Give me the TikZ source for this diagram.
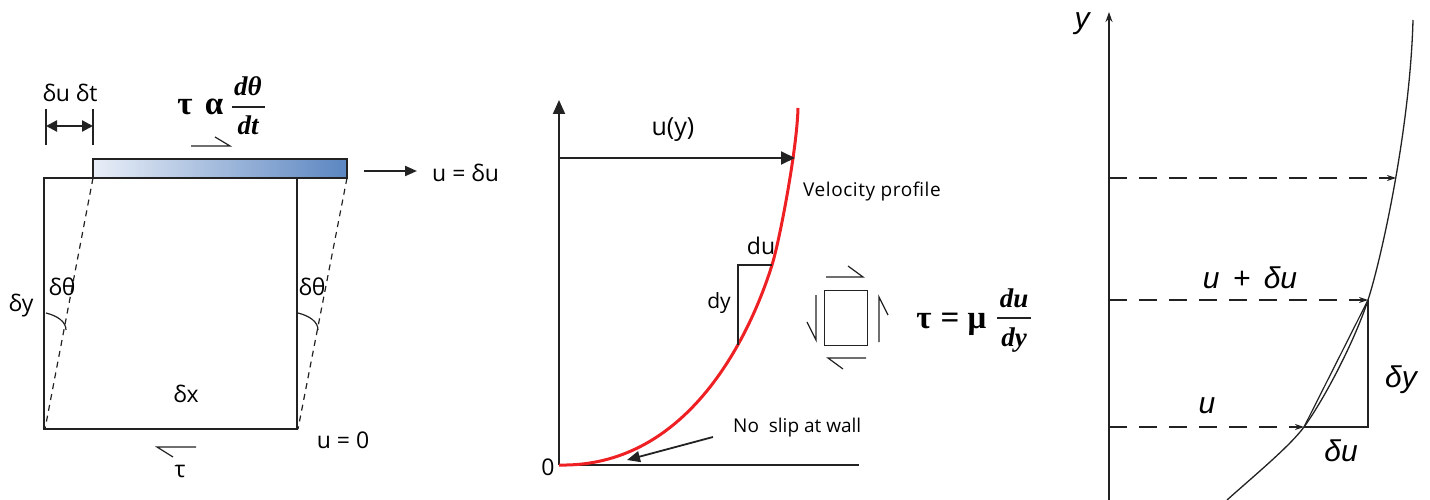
\documentclass[tikz,border=0pt]{standalone}
\usepackage{fontspec}
\setmainfont{Open Sans}
\newfontfamily\rsans{Liberation Sans}
\newfontfamily\mfont{Liberation Serif}
\usetikzlibrary{arrows.meta}
\definecolor{plateL}{HTML}{E9EEF7}
\definecolor{plateR}{HTML}{5B86C1}
\definecolor{profred}{HTML}{EE2024}
\definecolor{ink}{HTML}{222222}
\tikzset{
  thin1/.style={draw=ink, line width=1.4pt},
  dashl/.style={draw=ink, line width=1.2pt, dash pattern=on 6pt off 5pt},
  dashr/.style={draw=ink, line width=1.3pt, dash pattern=on 18pt off 12pt},
  lbl/.style={inner sep=0pt, font=\fontsize{23}{26}\selectfont},
  small/.style={inner sep=0pt, font=\fontsize{19}{21}\selectfont},
  rlbl/.style={inner sep=0pt, font=\rsans\itshape\fontsize{30}{32}\selectfont},
  bigsym/.style={inner sep=0pt, anchor=base, font=\mfont\bfseries\fontsize{33}{35}\selectfont},
  fracsym/.style={inner sep=0pt, anchor=base, font=\mfont\bfseries\itshape\fontsize{27}{29}\selectfont},
  fracbar/.style={draw=ink, line width=2pt},
}
\begin{document}
\begin{tikzpicture}[x=1pt,y=-1pt]
\useasboundingbox (0,0) rectangle (1430,500);
% ---------------- left panel ----------------
\coordinate (sqTL) at (44,178);
\coordinate (sqBL) at (44,429);
\coordinate (sqBR) at (297,429);
\coordinate (sqTR) at (297,178);
\node[draw=ink, line width=1.4pt, outer sep=0pt, left color=plateL, right color=plateR, minimum width=254pt, minimum height=19pt, inner sep=0pt, anchor=north west] (plate) at (93,159) {};
\draw[thin1] (plate.south west) -- (sqTL) -- (sqBL) -- (sqBR) -- (sqTR);
\coordinate (dL) at (45,429);
\coordinate (dR) at (298,429);
\draw[dashl] (plate.south west) -- (dL);
\draw[dashl] (plate.south east) -- (dR);
\draw[thin1, line width=1.2pt] (46,313) .. controls (58,316) and (66,322) .. (66,330);
\draw[thin1, line width=1.2pt] (298,313) .. controls (310,316) and (318,322) .. (318,330);
\node[lbl] (dthL) at (62,287) {δθ};
\node[lbl] (dthR) at (312,287) {δθ};
\node[lbl] (dy) at (21,306) {δy};
\node[lbl] (dx) at (186,394) {δx};
\node[lbl] (u0) at (343,440) {u = 0};
\node[lbl] (tauL) at (180,471) {τ};
\draw[thin1, line width=1.2pt] (196,447) -- (157,447) -- (173,457);
\draw[thin1, line width=1.2pt] (191,146) -- (230,146) -- (215,137);
% dimension
\coordinate (dimA1) at (46,109);
\coordinate (dimA2) at (46,145);
\coordinate (dimB1) at (93,109);
\coordinate (dimB2) at (93,145);
\draw[thin1] (dimA1) -- (dimA2);
\draw[thin1] (dimB1) -- (dimB2);
\coordinate (dimL) at (46,126);
\coordinate (dimR) at (93,126);
\draw[thin1, line width=2.2pt, {Triangle[length=11pt,width=11pt]}-{Triangle[length=11pt,width=11pt]}] (dimL) -- (dimR);
\node[lbl] (dudt) at (70,93) {δu δt};
% tau alpha dtheta/dt
\node[bigsym] (tauA) at (185,115) {τ};
\node[bigsym] (alphaA) at (214,115) {α};
\node[fracsym] (dthA) at (248,96) {dθ};
\node[fracsym] (dtA) at (248,135) {dt};
\coordinate (barA1) at (232,107);
\coordinate (barA2) at (265,107);
\draw[fracbar] (barA1) -- (barA2);
\coordinate (moveA) at (364,171);
\coordinate (moveB) at (417,171);
\draw[thin1, line width=2pt, -{Triangle[length=12pt,width=10pt]}] (moveA) -- (moveB);
\node[lbl, anchor=west] (udu) at (432,173) {u = δu};
% ---------------- middle panel ----------------
\coordinate (O) at (559,465);
\coordinate (ytop) at (559,100);
\coordinate (xend) at (859,465);
\draw[draw=ink, line width=2pt, -{Triangle[length=14pt,width=12pt]}] (O) -- (ytop);
\draw[draw=ink, line width=2pt] (O) -- (xend);
\node[lbl] (zero) at (548,467) {0};
\coordinate (pB) at (772,265);
\draw[profred, line width=3pt] (O) .. controls (700,468) and (758,310) .. coordinate[pos=0.64] (pA) (pB)
   .. controls (779,243) and (797,150) .. (798,108);
\coordinate (uyL) at (559,158);
\coordinate (uyR) at (795,158);
\draw[draw=ink, line width=2pt, -{Triangle[length=14pt,width=13pt]}] (uyL) -- (uyR);
\node[lbl, font=\fontsize{25}{28}\selectfont] (uy) at (673,130) {u(y)};
\node[small, anchor=west, font=\addfontfeature{LetterSpace=3}\fontsize{19}{21}\selectfont] (vp) at (803,192) {Velocity profile};
\draw[thin1, line width=1.3pt] (pA) |- (pB);
\node[lbl] (du) at (761,246) {du};
\node[lbl, font=\rmfamily\fontsize{21}{22}\selectfont] (dyl) at (719,303) {dy};
\node[draw=ink, line width=1.4pt, minimum width=43pt, minimum height=55pt, inner sep=0pt] (elem) at (846,318) {};
\draw[thin1, line width=1.2pt] (826,277) -- (863,277) -- (848,266);
\draw[thin1, line width=1.2pt] (866,358) -- (828,358) -- (843,369);
\draw[thin1, line width=1.2pt] (816,295) -- (816,340) -- (807,322);
\draw[thin1, line width=1.2pt] (879,342) -- (879,297) -- (888,315);
% tau = mu du/dy
\node[bigsym] (tauB) at (924,328) {τ};
\node[bigsym] (eqB) at (950,328) {=};
\node[bigsym] (muB) at (977,328) {μ};
\node[fracsym] (duB) at (1014,307) {du};
\node[fracsym] (dyB) at (1014,346) {dy};
\coordinate (barB1) at (997,318);
\coordinate (barB2) at (1031,318);
\draw[fracbar] (barB1) -- (barB2);
\node[small, anchor=west] (ns) at (733,428) {No\ \ slip at wall};
\coordinate (nsA) at (713,437);
\coordinate (nsB) at (627,460);
\draw[draw=ink, line width=1.8pt, -{Triangle[length=13pt,width=11pt]}] (nsA) -- (nsB);
% ---------------- right panel ----------------
\coordinate (rbot) at (1109,500);
\coordinate (rtop) at (1109,12);
\draw[draw=ink, line width=1.4pt, -{Stealth[length=10pt,width=7pt]}] (rbot) -- (rtop);
\node[rlbl] (ry) at (1082,24) {y};
\coordinate (r3b) at (1304,427);
\coordinate (r2b) at (1368,300);
\draw[draw=ink, line width=1.3pt] (1227,500) .. controls (1255,475) and (1290,446) .. (r3b)
   .. controls (1325,398) and (1355,340) .. (r2b)
   .. controls (1381,260) and (1410,130) .. (1413,20);
\coordinate (r1a) at (1109,178);
\coordinate (r1b) at (1396,178);
\coordinate (r2a) at (1109,300);
\coordinate (r3a) at (1109,427);
\draw[dashr, -{Stealth[length=9pt,width=6pt]}] (r1a) -- (r1b);
\draw[dashr, -{Stealth[length=9pt,width=6pt]}] (r2a) -- (r2b);
\draw[dashr, -{Stealth[length=9pt,width=6pt]}] (r3a) -- (r3b);
\coordinate (rc) at (1368,427);
\draw[draw=ink, line width=1.3pt] (r3b) -- (rc) -- (r2b);
\draw[draw=ink, line width=1.2pt] (r3b) -- (r2b);
\node[rlbl] (ruplus) at (1250,278) {u\ \,+\ \,δu};
\node[rlbl] (ru) at (1207,406) {u};
\node[rlbl] (rdy) at (1401,380) {δy};
\node[rlbl] (rdu) at (1341,451) {δu};
\end{tikzpicture}
\end{document}
